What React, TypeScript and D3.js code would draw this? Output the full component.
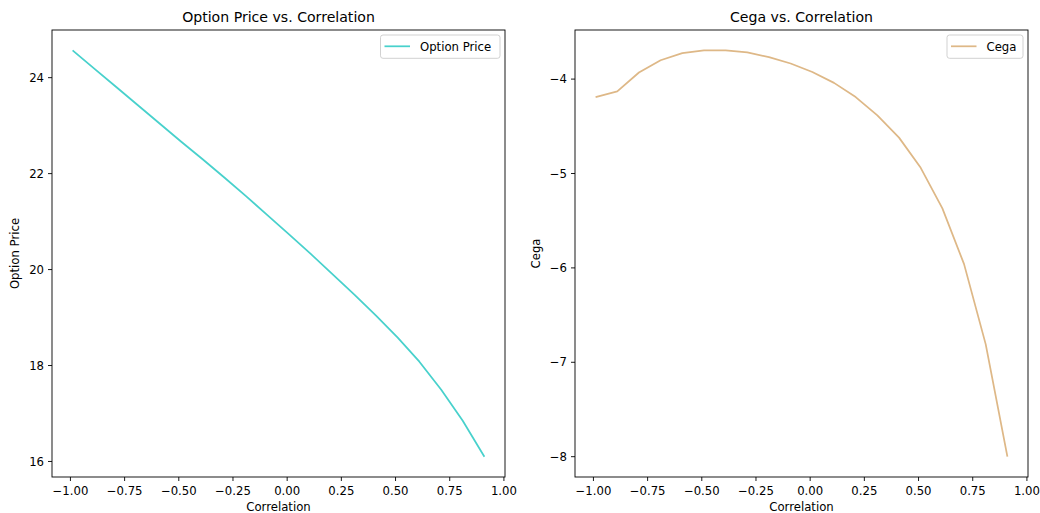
import React from "react";
import * as d3 from "d3";

const correlations = [-0.99, -0.89, -0.79, -0.69, -0.59, -0.49, -0.39, -0.29, -0.19, -0.09, 0.01, 0.11, 0.21, 0.31, 0.41, 0.51, 0.61, 0.71, 0.81, 0.91];
const optionPrices = [24.57, 24.19, 23.81, 23.43, 23.05, 22.67, 22.30, 21.92, 21.53, 21.13, 20.73, 20.32, 19.90, 19.48, 19.04, 18.58, 18.08, 17.50, 16.85, 16.10];
const cegaValues = [-4.19, -4.13, -3.93, -3.80, -3.725, -3.695, -3.695, -3.717, -3.767, -3.835, -3.925, -4.04, -4.19, -4.385, -4.62, -4.94, -5.37, -5.96, -6.81, -8.0];
const xTicks = [-1, -0.75, -0.5, -0.25, 0, 0.25, 0.5, 0.75, 1];
const priceTicks = [16, 18, 20, 22, 24];
const cegaTicks = [-8, -7, -6, -5, -4];

const FONT = "DejaVu Sans, sans-serif";
const FS = 11.7;

type PanelProps = {
  left: number;
  xs: number[];
  ys: number[];
  yTicks: number[];
  yFmt: (v: number) => string;
  color: string;
  title: string;
  ylabel: string;
  legend: string;
  legendW: number;
  ylabelX: number;
};

function Panel(p: PanelProps) {
  const top = 30, bottom = 477, width = 453;
  const right = p.left + width;
  const xMin = d3.min(p.xs)!, xMax = d3.max(p.xs)!;
  const xr = xMax - xMin;
  const yMin = d3.min(p.ys)!, yMax = d3.max(p.ys)!;
  const yr = yMax - yMin;
  const x = d3.scaleLinear().domain([xMin - 0.05 * xr, xMax + 0.05 * xr]).range([p.left, right]);
  const y = d3.scaleLinear().domain([yMin - 0.05 * yr, yMax + 0.05 * yr]).range([bottom, top]);
  const line = d3.line<number>().x((_, i) => x(p.xs[i])).y((d) => y(d));
  const xFmt = d3.format(".2f");
  const cx = (p.left + right) / 2;
  const lgX = right - 5 - p.legendW;
  return (
    <g>
      <path d={line(p.ys) || ""} fill="none" stroke={p.color} strokeWidth={1.75} strokeLinejoin="round" strokeLinecap="butt" />
      <rect x={p.left} y={top} width={width} height={bottom - top} fill="none" stroke="#000" strokeWidth={0.9} />
      {xTicks.map((t) => (
        <g key={"x" + t}>
          <line x1={x(t)} x2={x(t)} y1={bottom} y2={bottom + 4} stroke="#000" strokeWidth={0.9} />
          <text x={x(t)} y={494.5} fontSize={FS} fontFamily={FONT} textAnchor="middle" fill="#000">{xFmt(t)}</text>
        </g>
      ))}
      {p.yTicks.map((t) => (
        <g key={"y" + t}>
          <line x1={p.left - 4} x2={p.left} y1={y(t)} y2={y(t)} stroke="#000" strokeWidth={0.9} />
          <text x={p.left - 8} y={y(t) + 4.2} fontSize={FS} fontFamily={FONT} textAnchor="end" fill="#000">{p.yFmt(t)}</text>
        </g>
      ))}
      <text x={cx} y={21.5} fontSize={14.1} fontFamily={FONT} textAnchor="middle" fill="#000">{p.title}</text>
      <text x={cx} y={511} fontSize={FS} fontFamily={FONT} textAnchor="middle" fill="#000">Correlation</text>
      <text transform={`translate(${p.ylabelX},${(top + bottom) / 2}) rotate(-90)`} fontSize={FS} fontFamily={FONT} textAnchor="middle" fill="#000">{p.ylabel}</text>
      <rect x={lgX} y={35} width={p.legendW} height={23.3} rx={2.5} fill="#fff" fillOpacity={0.8} stroke="#cccccc" strokeWidth={0.9} />
      <line x1={lgX + 4} x2={lgX + 29.5} y1={46.3} y2={46.3} stroke={p.color} strokeWidth={1.75} />
      <text x={lgX + 39.5} y={50.5} fontSize={FS} fontFamily={FONT} fill="#000">{p.legend}</text>
    </g>
  );
}

export default function App() {
  const intFmt = d3.format("d");
  return (
    <svg width={1040} height={513} style={{ position: "absolute", left: 0, top: 0, background: "#fff" }}>
      <rect width={1040} height={513} fill="#fff" />
      <Panel left={52} xs={correlations} ys={optionPrices} yTicks={priceTicks} yFmt={intFmt} color="#48D1CC"
        title="Option Price vs. Correlation" ylabel="Option Price" legend="Option Price" legendW={119.5} ylabelX={19} />
      <Panel left={575} xs={correlations} ys={cegaValues} yTicks={cegaTicks} yFmt={intFmt} color="#DEB887"
        title="Cega vs. Correlation" ylabel="Cega" legend="Cega" legendW={76} ylabelX={540} />
    </svg>
  );
}
